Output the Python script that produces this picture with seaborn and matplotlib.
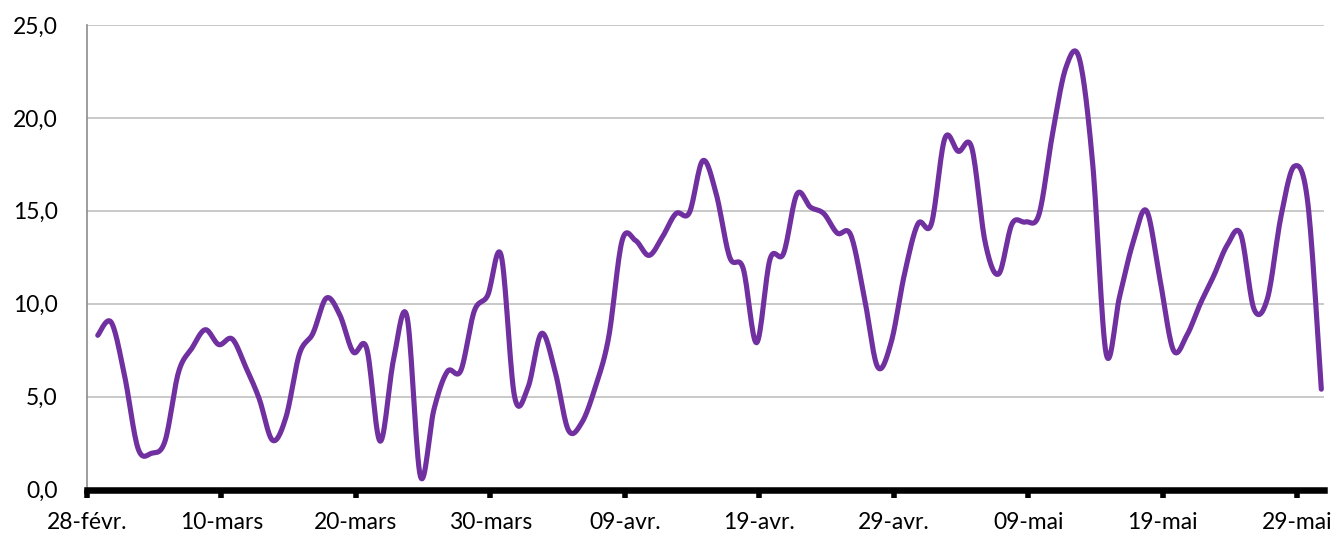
import numpy as np
import pandas as pd
import matplotlib
matplotlib.use('Agg')
import matplotlib.pyplot as plt
import seaborn as sns

# valeurs journalières du 28 février au 30 mai
values = [8.3, 9.0, 6.1, 2.2, 1.95, 2.6, 6.3, 7.6, 8.6, 7.8,
          8.1, 6.6, 4.9, 2.65, 3.9, 7.3, 8.4, 10.3, 9.4, 7.4,
          7.6, 2.6, 7.0, 9.3, 0.7, 4.3, 6.35, 6.4, 9.6, 10.45,
          12.6, 5.0, 5.5, 8.4, 6.4, 3.2, 3.6, 5.5, 8.2, 13.4,
          13.4, 12.6, 13.6, 14.85, 14.9, 17.7, 15.9, 12.5, 11.9, 7.9,
          12.4, 12.7, 15.9, 15.2, 14.85, 13.8, 13.7, 10.4, 6.6, 7.9,
          11.6, 14.3, 14.3, 18.9, 18.2, 18.4, 13.3, 11.6, 14.3, 14.4,
          14.8, 19.1, 22.7, 23.2, 17.5, 7.3, 10.4, 13.3, 15.0, 11.3,
          7.5, 8.3, 10.0, 11.5, 13.15, 13.75, 9.7, 10.3, 14.7, 17.4,
          15.4, 5.4]
days = np.arange(len(values))

tick_days = [0, 10, 20, 30, 40, 50, 60, 70, 80, 90]
tick_labels = ['28-févr.', '10-mars', '20-mars', '30-mars', '09-avr.',
               '19-avr.', '29-avr.', '09-mai', '19-mai', '29-mai']
y_ticks = [0, 5, 10, 15, 20, 25]


def smooth(x, y, n=16):
    # courbe lissée façon Excel (Bézier passant par chaque point)
    x = np.asarray(x, float)
    y = np.asarray(y, float)
    xp = np.r_[x[0], x, x[-1]]
    yp = np.r_[y[0], y, y[-1]]
    t = np.linspace(0, 1, n, endpoint=False)[:, None]
    out = []
    for i in range(len(x) - 1):
        p0 = np.array([xp[i], yp[i]])
        p1 = np.array([xp[i + 1], yp[i + 1]])
        p2 = np.array([xp[i + 2], yp[i + 2]])
        p3 = np.array([xp[i + 3], yp[i + 3]])
        b1 = p1 + (p2 - p0) / 6
        b2 = p2 - (p3 - p1) / 6
        seg = ((1 - t) ** 3) * p1 + 3 * ((1 - t) ** 2) * t * b1 \
            + 3 * (1 - t) * t ** 2 * b2 + t ** 3 * p2
        out.append(seg)
    out.append(np.array([[x[-1], y[-1]]]))
    out = np.vstack(out)
    return out[:, 0], out[:, 1]


sns.set_theme(style='white')
plt.rcParams['font.family'] = ['Lato', 'DejaVu Sans']

sx, sy = smooth(days + 0.8, values)
df = pd.DataFrame({'jour': sx, 'valeur': sy})

fig = plt.figure(figsize=(13.37, 5.36), dpi=100)
ax = fig.add_axes([87 / 1337, 1 - 489.5 / 536, (1324 - 87) / 1337, (489.5 - 25) / 536])

ax.yaxis.grid(True, color='#c0c0c0', linewidth=1.2)
ax.set_axisbelow(True)

sns.lineplot(data=df, x='jour', y='valeur', ax=ax, color='#7030A0',
             linewidth=3.7, sort=False, estimator=None,
             solid_capstyle='round', solid_joinstyle='round')

ax.set_xlim(0, 92)
ax.set_ylim(0, 25)
ax.set_xticks(tick_days)
ax.set_xticklabels(tick_labels)
ax.set_yticks(y_ticks)
ax.set_yticklabels([f'{v:.1f}'.replace('.', ',') for v in y_ticks])
ax.set_xlabel('')
ax.set_ylabel('')

for s in ['top', 'right']:
    ax.spines[s].set_visible(False)
ax.spines['left'].set_color('#8c8c8c')
ax.spines['left'].set_linewidth(1.2)
ax.spines['bottom'].set_color('black')
ax.spines['bottom'].set_linewidth(4.7)

ax.tick_params(axis='x', length=6, width=4, color='black', direction='out',
               pad=10, labelsize=16.5, labelcolor='black', bottom=True)
ax.tick_params(axis='y', length=0, pad=21, labelsize=16.5, labelcolor='black')

fig.savefig('out.png', dpi=100)
